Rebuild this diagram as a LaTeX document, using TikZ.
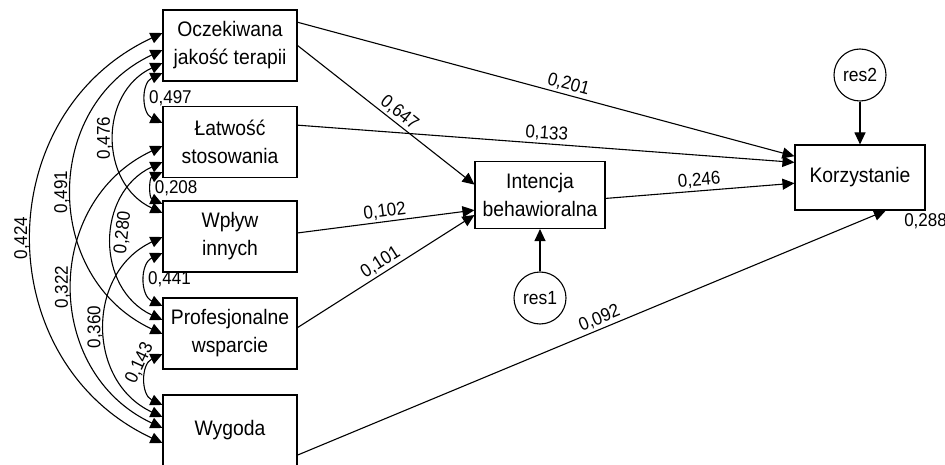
\documentclass[tikz,border=0pt]{standalone}
\usepackage{fontspec}
\setmainfont{Liberation Sans}[FakeStretch=0.92]
\usetikzlibrary{arrows.meta}

\begin{document}
\begin{tikzpicture}[x=1pt,y=1pt,line width=1.1pt,
    >={Triangle[length=12pt,width=11pt]},
    var/.style={rectangle,draw,minimum width=134pt,minimum height=71pt,inner sep=0pt,align=center,font=\fontsize{21}{28}\selectfont},
    dep/.style={rectangle,draw,minimum width=130pt,minimum height=67pt,inner sep=0pt,align=center,font=\fontsize{21}{28}\selectfont},
    res/.style={circle,draw,minimum size=52pt,inner sep=0pt,font=\fontsize{19}{22}\selectfont},
    coef/.style={font=\fontsize{18.5}{20}\selectfont,inner sep=2pt},
    cov/.style={<->,bend left=65,looseness=1.2}]
\useasboundingbox (0,0) rectangle (945,464);

\path
(230,418.5) node[var](ocz) {Oczekiwana\\jakość terapii}
(230,322) node[var](lat) {Łatwość\\stosowania}
(230,227.5) node[var](wpl) {Wpływ\\innych}
(230,130.5) node[var](pro) {Profesjonalne\\wsparcie}
(230,33.5) node[var](wyg) {Wygoda}
(540,269) node[dep](int) {Intencja\\behawioralna}
(860,286.5) node[dep,minimum height=65pt](kor) {Korzystanie}
(540,166) node[res](res1) {res1}
(860,389) node[res](res2) {res2};

% paths
\draw[->] (ocz.19) -- node[coef,sloped,above,pos=0.54]{0,201} (kor.162.5);
\draw[->] (ocz.0) -- node[coef,sloped,above,pos=0.54]{0,647} (int.171);
\draw[->] (lat.14) -- node[coef,sloped,above,pos=0.5]{0,133} (kor.167.5);
\draw[->] (wpl.3) -- node[coef,sloped,above,pos=0.5]{0,102} (int.-167);
\draw[->] (pro.5.5) -- node[coef,sloped,above,pos=0.5]{0,101} (int.-163);
\draw[->] (int.-3.5) -- node[coef,sloped,above,pos=0.5]{0,246} (kor.185);
\draw[->] (wyg.-20.5) -- node[coef,sloped,above,pos=0.52]{0,092} (kor.-52);
\draw[->] (res1) -- (int);
\draw[->] (res2) -- (kor);
\node[coef,anchor=north] (r2kor) at (kor.south east) {0,288};

% covariances
\draw[cov] ([yshift=19pt]lat.west) to node[coef,right]{0,497} ([yshift=-27.5pt]ocz.west);
\draw[cov] ([yshift=32.5pt]wpl.west) to node[coef,right]{0,208} ([yshift=-30pt]lat.west);
\draw[cov] ([yshift=27.5pt]pro.west) to node[coef,right]{0,441} ([yshift=-16.5pt]wpl.west);
\draw[cov] ([yshift=25.5pt]wyg.west) to node[coef,sloped,above,pos=0.7]{0,143} ([yshift=-20.5pt]pro.west);
\draw[cov] ([yshift=23.5pt]wpl.west) to node[coef,sloped,above]{0,476} ([yshift=-17.5pt]ocz.west);
\draw[cov] ([yshift=13.5pt]pro.west) to node[coef,sloped,below,pos=0.55]{0,280} ([yshift=-20pt]lat.west);
\draw[cov] ([yshift=13.5pt]wyg.west) to node[coef,sloped,above]{0,360} ([yshift=-0.5pt]wpl.west);
\draw[cov] ([yshift=-0.5pt]pro.west) to node[coef,sloped,above]{0,491} ([yshift=-4.5pt]ocz.west);
\draw[cov] ([yshift=2.5pt]wyg.west) to node[coef,sloped,above]{0,322} ([yshift=-4pt]lat.west);
\draw[cov] ([yshift=-12.5pt]wyg.west) to node[coef,sloped,above]{0,424} ([yshift=12.5pt]ocz.west);
\end{tikzpicture}
\end{document}
